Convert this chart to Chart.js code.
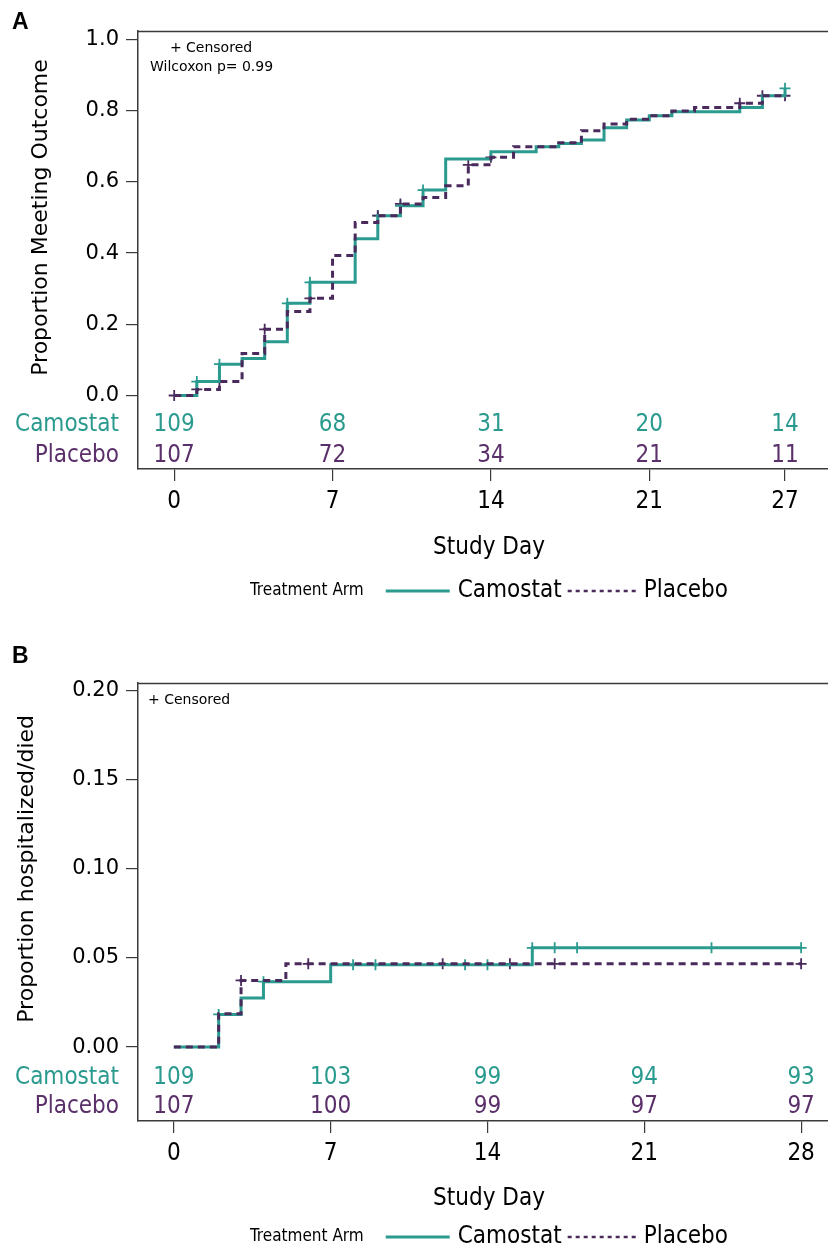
<!DOCTYPE html>
<html>
<head>
<meta charset="utf-8">
<script src="https://cdn.jsdelivr.net/npm/chart.js@4.4.1/dist/chart.umd.min.js"></script>
<style>
  html,body{margin:0;padding:0;background:#fff;overflow:hidden;}
  canvas{display:block;}
</style>
</head>
<body>
<canvas id="chartA" width="828" height="630"></canvas>
<canvas id="chartB" width="828" height="624"></canvas>
<script>
// ---- panel A: proportion meeting outcome ----
const camoDaysA = [0,1,2,3,4,5,6,8,9,10,11,12,14,16,17,18,19,20,21,22,25,26,27];
const camoValsA = [0,0.039,0.088,0.104,0.151,0.259,0.318,0.440,0.505,0.533,0.577,0.664,0.685,0.699,0.708,0.718,0.752,0.774,0.786,0.797,0.809,0.842,0.863];
const placDaysA = [0,1,2,3,4,5,6,7,8,9,10,11,12,13,14,15,17,18,19,20,21,22,23,25,26,27];
const placValsA = [0,0.017,0.039,0.118,0.186,0.236,0.273,0.393,0.486,0.505,0.538,0.556,0.589,0.648,0.669,0.699,0.710,0.744,0.763,0.776,0.786,0.799,0.809,0.821,0.842,0.842];
const camoCensA = [1,2,5,6,9,10,11,27];
const placCensA = [0,1,2,4,6,9,10,13,14,25,26,27];
const xTicksA = [0,7,14,21,27];
const yTicksA = [0,0.2,0.4,0.6,0.8,1.0];
const camoRiskA = [109,68,31,20,14];
const placRiskA = [107,72,34,21,11];

// ---- panel B: hospitalized / died ----
const camoDaysB = [0,2,3,4,7,16,28];
const camoValsB = [0,0.0183,0.0275,0.0367,0.0462,0.0557,0.0557];
const placDaysB = [0,2,3,5,28];
const placValsB = [0,0.0187,0.0374,0.0467,0.0467];
const camoCensB = [2,4,8,9,13,14,16,17,18,24,28];
const placCensB = [3,6,12,15,17,28];
const xTicksB = [0,7,14,21,28];
const yTicksB = [0,0.05,0.10,0.15,0.20];
const camoRiskB = [109,103,99,94,93];
const placRiskB = [107,100,99,97,97];

const TEAL = "#2b9b90", PURPLE = "#4a2a5c";
const TEAL_TXT = "#2a9a8e", PURPLE_TXT = "#5a2f6a";
const NARROW = "'Liberation Sans Narrow','DejaVu Sans Condensed','Liberation Sans',sans-serif";
const WIDE = "'DejaVu Sans',Verdana,sans-serif";
const AXIS = "#3a3a3a";

function pts(days, vals){ return days.map((d,i)=>({x:d, y:vals[i]})); }
function stepAt(days, vals, d){
  let v = vals[0];
  for(let i=0;i<days.length;i++){ if(days[i] <= d) v = vals[i]; }
  return v;
}
function cens(cd, days, vals){ return cd.map(d => ({x:d, y:stepAt(days, vals, d)})); }

function makeChart(id, o){
  const decor = {
    id: "decor",
    afterDraw(chart){
      const {ctx, chartArea:a, scales:{x, y}} = chart;
      ctx.save();
      // frame top
      ctx.strokeStyle = AXIS; ctx.lineWidth = 1.5;
      ctx.beginPath(); ctx.moveTo(a.left, a.top+0.5); ctx.lineTo(chart.width, a.top+0.5); ctx.stroke();
      // panel letter
      ctx.fillStyle = "#000"; ctx.font = "bold 23px 'Liberation Sans',Arial,sans-serif";
      ctx.textAlign = "left"; ctx.textBaseline = "middle";
      ctx.fillText(o.letter, o.letterX, o.letterY);
      // notes
      ctx.font = "14px " + WIDE;
      o.notes.forEach(n => { ctx.textAlign = n.align; ctx.fillText(n.text, n.x, n.y); });
      // y title
      const yc = (y.getPixelForValue(o.yTicks[0]) + y.getPixelForValue(o.yTicks[o.yTicks.length-1]))/2;
      ctx.save();
      ctx.translate(o.yTitleX, yc); ctx.rotate(-Math.PI/2);
      ctx.font = "22px " + WIDE; ctx.textAlign = "center";
      ctx.fillText(o.yTitle, 0, 0);
      ctx.restore();
      // risk table
      ctx.font = "24px " + NARROW;
      const rows = [[ "Camostat", o.camoRisk, TEAL_TXT, a.bottom - o.riskOff[0]],
                    [ "Placebo",  o.placRisk, PURPLE_TXT, a.bottom - o.riskOff[1]]];
      rows.forEach(([lab, vals, col, yy]) => {
        ctx.fillStyle = col;
        ctx.textAlign = "right"; ctx.fillText(lab, 119, yy);
        ctx.textAlign = "center";
        vals.forEach((v,i) => ctx.fillText(String(v), x.getPixelForValue(o.xTicks[i]), yy));
      });
      // x title
      ctx.fillStyle = "#000"; ctx.font = "24px " + NARROW; ctx.textAlign = "center";
      ctx.fillText("Study Day", 489, a.bottom + o.xTitleOff);
      // legend
      const ly = a.bottom + o.legendOff;
      ctx.font = "17px " + NARROW; const w0 = ctx.measureText("Treatment Arm").width;
      ctx.font = "24px " + NARROW;
      const w1 = ctx.measureText("Camostat").width, w2 = ctx.measureText("Placebo").width;
      const total = w0 + 22 + 64 + 8 + w1 + 6 + 69 + 7 + w2;
      let lx = 489 - total/2;
      ctx.textAlign = "left";
      ctx.font = "17px " + NARROW; ctx.fillText("Treatment Arm", lx, ly); lx += w0 + 22;
      ctx.strokeStyle = TEAL; ctx.lineWidth = 3; ctx.setLineDash([]);
      ctx.beginPath(); ctx.moveTo(lx, ly); ctx.lineTo(lx+64, ly); ctx.stroke(); lx += 64 + 8;
      ctx.font = "24px " + NARROW; ctx.fillText("Camostat", lx, ly); lx += w1 + 6;
      ctx.strokeStyle = PURPLE; ctx.lineWidth = 2.5; ctx.setLineDash([4,4]);
      ctx.beginPath(); ctx.moveTo(lx, ly); ctx.lineTo(lx+69, ly); ctx.stroke(); lx += 69 + 7;
      ctx.setLineDash([]);
      ctx.fillText("Placebo", lx, ly);
      ctx.restore();
    }
  };

  return new Chart(document.getElementById(id), {
    type: "line",
    data: { datasets: [
      { label:"Placebo", data: pts(o.placDays, o.placVals), stepped:true, borderColor:PURPLE,
        borderWidth:3, borderDash:[7,5], pointRadius:0, fill:false },
      { label:"Camostat", data: pts(o.camoDays, o.camoVals), stepped:true, borderColor:TEAL,
        borderWidth:3, pointRadius:0, fill:false },
      { label:"Placebo censored", data: cens(o.placCens, o.placDays, o.placVals), showLine:false,
        pointStyle:"cross", pointRadius:5.5, pointBorderWidth:1.8, borderColor:PURPLE, pointBorderColor:PURPLE },
      { label:"Camostat censored", data: cens(o.camoCens, o.camoDays, o.camoVals), showLine:false,
        pointStyle:"cross", pointRadius:5.5, pointBorderWidth:1.8, borderColor:TEAL, pointBorderColor:TEAL },
    ]},
    options: {
      responsive:false, animation:false, devicePixelRatio:1,
      layout:{ autoPadding:false, padding:{ top:o.top, left:0, right:0, bottom:0 } },
      plugins:{ legend:{display:false}, tooltip:{enabled:false} },
      scales:{
        x:{ type:"linear", min:-1.6, max:o.xMax,
            afterBuildTicks: s => { s.ticks = o.xTicks.map(v => ({value:v})); },
            afterFit: s => { s.height = o.xAxisH; s.paddingLeft = 0; s.paddingRight = 0; },
            grid:{ drawOnChartArea:false, drawTicks:true, tickLength:12, color:AXIS, lineWidth:1.2 },
            border:{ display:true, color:AXIS, width:1.5 },
            ticks:{ color:"#000", padding:6, font:{family:NARROW, size:24}, callback:v => String(v) } },
        y:{ type:"linear", min:o.yMin, max:o.yMax,
            afterBuildTicks: s => { s.ticks = o.yTicks.map(v => ({value:v})); },
            afterFit: s => { s.width = 138; s.paddingTop = 0; s.paddingBottom = 0; },
            grid:{ drawOnChartArea:false, drawTicks:true, tickLength:12, color:AXIS, lineWidth:1.2 },
            border:{ display:true, color:AXIS, width:1.5 },
            ticks:{ color:"#000", padding:7, font:{family:WIDE, size:21}, callback:v => v.toFixed(o.dec) } }
      }
    },
    plugins:[decor]
  });
}

makeChart("chartA", {
  letter:"A", letterX:12, letterY:23, top:31, xAxisH:161, xMax:28.9,
  yMin:-0.2065, yMax:1.0239, yTicks:yTicksA, dec:1, xTicks:xTicksA,
  camoDays:camoDaysA, camoVals:camoValsA, placDays:placDaysA, placVals:placValsA,
  camoCens:camoCensA, placCens:placCensA, camoRisk:camoRiskA, placRisk:placRiskA,
  yTitle:"Proportion Meeting Outcome", yTitleX:41,
  notes:[{text:"+ Censored", x:211, y:48, align:"center"}, {text:"Wilcoxon p= 0.99", x:150, y:67, align:"left"}],
  riskOff:[44,13], xTitleOff:79, legendOff:122
});

makeChart("chartB", {
  letter:"B", letterX:12, letterY:27, top:53, xAxisH:133, xMax:29.2,
  yMin:-0.0415, yMax:0.2043, yTicks:yTicksB, dec:2, xTicks:xTicksB,
  camoDays:camoDaysB, camoVals:camoValsB, placDays:placDaysB, placVals:placValsB,
  camoCens:camoCensB, placCens:placCensB, camoRisk:camoRiskB, placRisk:placRiskB,
  yTitle:"Proportion hospitalized/died", yTitleX:27,
  notes:[{text:"+ Censored", x:148, y:70, align:"left"}],
  riskOff:[43,14], xTitleOff:78, legendOff:116
});
</script>
</body>
</html>
